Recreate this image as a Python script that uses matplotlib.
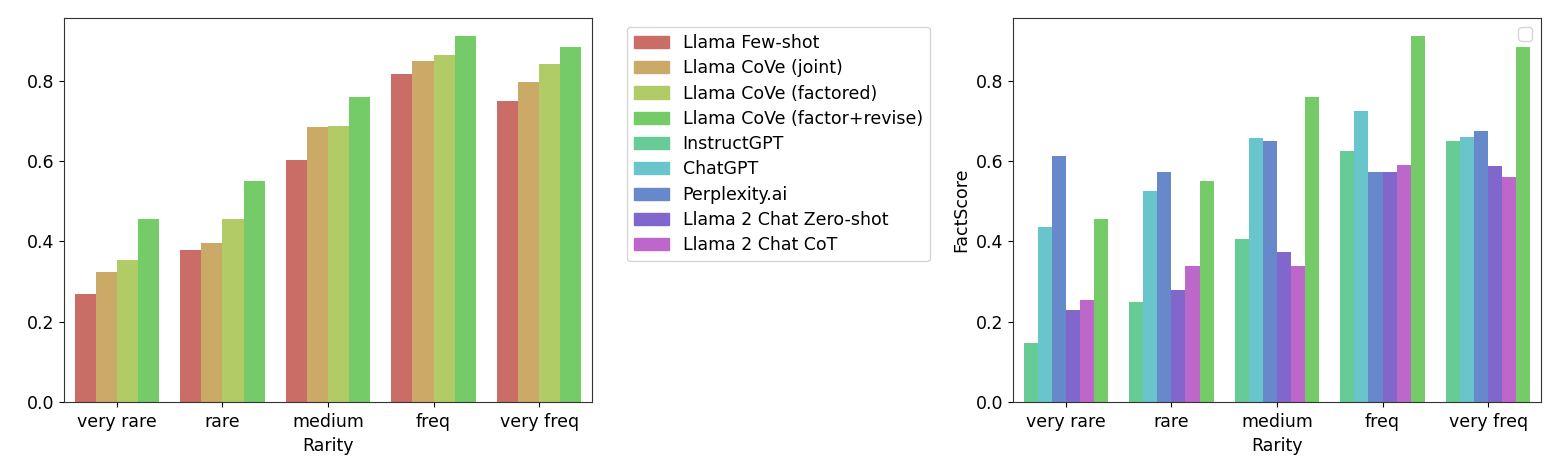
import matplotlib
matplotlib.use("Agg")
import matplotlib.pyplot as plt
import matplotlib.patches as mpatches
import numpy as np
import seaborn as sns

rarity = ["very rare", "rare", "medium", "freq", "very freq"]

methods = ["Llama Few-shot", "Llama CoVe (joint)", "Llama CoVe (factored)",
           "Llama CoVe (factor+revise)", "InstructGPT", "ChatGPT",
           "Perplexity.ai", "Llama 2 Chat Zero-shot", "Llama 2 Chat CoT"]

# left panel
llama_fewshot = [0.270, 0.378, 0.602, 0.817, 0.750]
cove_joint = [0.325, 0.397, 0.685, 0.849, 0.797]
cove_factored = [0.353, 0.457, 0.688, 0.864, 0.842]
cove_factor_revise = [0.457, 0.550, 0.759, 0.911, 0.884]

# right panel
instructgpt = [0.146, 0.250, 0.407, 0.625, 0.649]
chatgpt = [0.435, 0.525, 0.657, 0.724, 0.659]
perplexity = [0.612, 0.572, 0.649, 0.572, 0.674]
llama2_zeroshot = [0.228, 0.280, 0.373, 0.572, 0.587]
llama2_cot = [0.255, 0.338, 0.340, 0.590, 0.560]

pal = [sns.desaturate(c, 0.75) for c in sns.color_palette("hls", 10)]
colors = dict(zip(methods, pal))

plt.rcParams["font.size"] = 12.5
plt.rcParams["xtick.major.pad"] = 4.5

fig = plt.figure(figsize=(15.57, 4.71), dpi=100)
ax1 = fig.add_axes([0.0411, 0.1465, 0.3391, 0.8153])
ax2 = fig.add_axes([0.6506, 0.1465, 0.3391, 0.8153])


def grouped(ax, series):
    x = np.arange(len(rarity))
    n = len(series)
    w = 0.8 / n
    for j, (name, vals) in enumerate(series):
        ax.bar(x - 0.4 + w * (j + 0.5), vals, width=w, color=colors[name],
               edgecolor="none")
    ax.set_xticks(x)
    ax.set_xticklabels(rarity)
    ax.set_xlim(-0.5, len(rarity) - 0.5)
    ax.set_xlabel("Rarity")
    ax.set_yticks([0.0, 0.2, 0.4, 0.6, 0.8])
    for s in ax.spines.values():
        s.set_color("#333333")


grouped(ax1, [("Llama Few-shot", llama_fewshot),
              ("Llama CoVe (joint)", cove_joint),
              ("Llama CoVe (factored)", cove_factored),
              ("Llama CoVe (factor+revise)", cove_factor_revise)])
grouped(ax2, [("InstructGPT", instructgpt),
              ("ChatGPT", chatgpt),
              ("Perplexity.ai", perplexity),
              ("Llama 2 Chat Zero-shot", llama2_zeroshot),
              ("Llama 2 Chat CoT", llama2_cot),
              ("Llama CoVe (factor+revise)", cove_factor_revise)])
ax2.set_ylabel("FactScore")
ax2.legend([], [], loc="upper right")

handles = [mpatches.Patch(color=colors[m], label=m) for m in methods]
fig.legend(handles=handles, loc="upper left", labelspacing=0.42,
           bbox_to_anchor=(627 / 1557, 1 - 27 / 471), borderaxespad=0)

fig.savefig("out.png", dpi=100)
